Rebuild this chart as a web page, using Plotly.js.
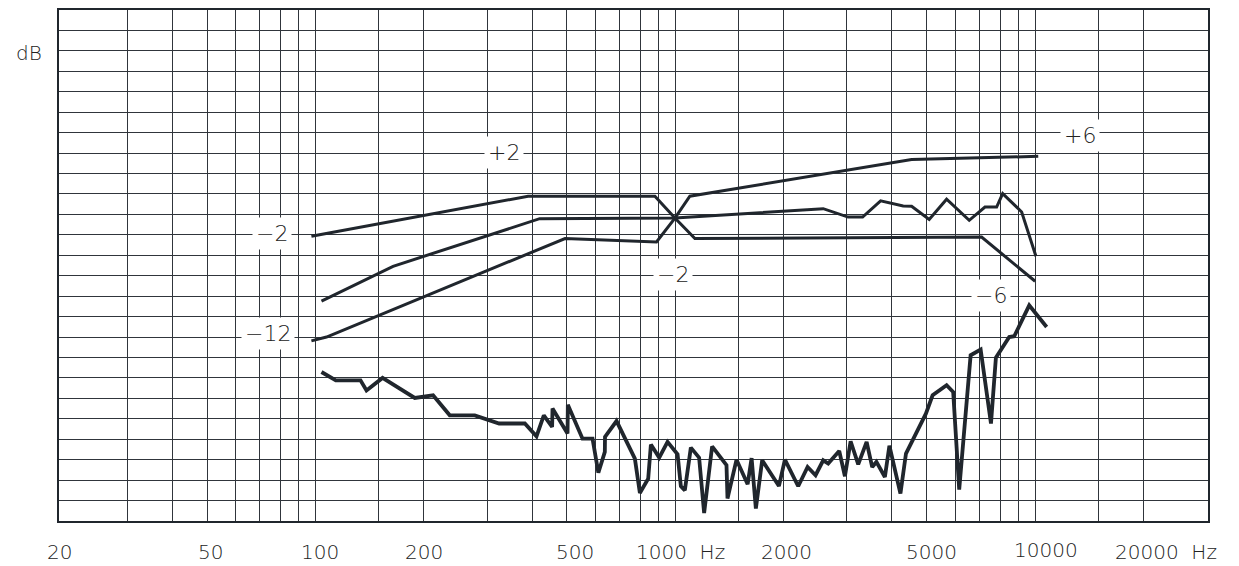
<!DOCTYPE html>
<html>
<head>
<meta charset="utf-8">
<script src="https://cdn.plot.ly/plotly-3.0.1.min.js"></script>
<style>
html,body{margin:0;padding:0;background:#fff;}
#chart{width:1239px;height:566px;}
</style>
</head>
<body>
<div id="chart"></div>
<script>
// ---- data (levels in grid divisions, 0 = bottom edge) ----
var freqA  = [97.5, 390, 878, 998, 1134, 7100, 10000];
var levelA = [13.93, 15.89, 15.89, 14.82, 13.82, 13.89, 11.73];

var freqB  = [97.5, 107.4, 494, 887, 998, 1098, 4537, 10200];
var levelB = [8.81, 9.00, 13.82, 13.65, 14.82, 15.89, 17.68, 17.84];

var freqC  = [104, 164.4, 420, 998, 2577, 3023, 3316, 3721, 4299, 4537, 5077, 5675, 6559, 7253, 7816, 8124, 9174, 10051];
var levelC = [10.76, 12.46, 14.79, 14.82, 15.28, 14.87, 14.87, 15.66, 15.41, 15.40, 14.75, 15.74, 14.71, 15.36, 15.36, 16.02, 15.12, 12.95];

var freqD  = [104, 114, 133.5, 138.7, 153.7, 188.9, 212.4, 236.3, 277.3, 324.1, 382, 411.6, 431.3, 454.9, 456, 502, 503, 552.5, 589.1, 611.4, 637.3, 638, 686.9, 772.4, 797.5, 841.1, 855.7, 902.4, 951.9, 1015, 1036.5, 1063.3, 1105, 1165, 1203, 1266, 1388, 1397, 1480, 1589, 1630, 1675, 1744, 1941, 2017, 2196, 2332, 2454, 2577, 2661, 2855, 2961, 3071, 3224, 3402, 3526, 3622, 3824, 3936, 4224, 4376, 4836, 4971, 5189, 5675, 5920, 6152, 6618, 7056, 7538, 7780, 8472, 8748, 9629, 10765];
var levelD = [7.29, 6.88, 6.88, 6.39, 7.00, 6.02, 6.15, 5.17, 5.17, 4.77, 4.77, 4.14, 5.17, 4.60, 5.50, 4.28, 5.69, 4.03, 4.03, 2.36, 3.38, 4.11, 4.89, 3.05, 1.37, 2.07, 3.74, 3.10, 3.87, 3.26, 1.70, 1.50, 3.59, 3.10, 0.39, 3.65, 2.73, 1.10, 3.00, 1.80, 3.08, 0.61, 2.97, 1.71, 3.00, 1.70, 2.64, 2.24, 2.97, 2.81, 3.43, 2.19, 3.90, 2.77, 3.87, 2.64, 2.89, 2.15, 3.68, 1.34, 3.30, 4.77, 5.25, 6.15, 6.64, 6.31, 1.54, 8.11, 8.39, 4.77, 7.99, 9.00, 9.04, 10.55, 9.49];

var curveLabels = ['+2', '\u22122', '\u221212', '\u22122', '\u22126', '+6'];
var curveLabelFreq = [334, 75.9, 73.7, 987, 7538, 13300];
var curveLabelLevel = [18.04, 14.08, 9.18, 12.07, 11.04, 18.87];

var gridFreqs = [30,40,50,60,70,80,90,100,150,200,300,400,500,600,700,800,900,1000,1500,2000,3000,4000,5000,6000,7000,8000,9000,10000,15000,20000];
var tickFreqs = [20, 50, 100, 200, 500, 1000, 2000, 5000, 10000, 20000];
var tickText  = ['20', '50', '100', '200', '500', '1000  Hz', '2000', '5000', '10000', '20000  Hz'];
var tickShift = [-4, 3, 5, 0, 8, 5, 3, 5, 11, 23];   // label nudges in px
var tickLift  = [0, 0, 0, 0, 0, 0, 0, 0, 2, 0];

var ink = '#20262d';
var lineStyle = function(w){ return {color: ink, width: w, shape: 'linear'}; };

var traces = [
  {x: freqA, y: levelA, mode: 'lines', line: lineStyle(3), hoverinfo: 'skip'},
  {x: freqB, y: levelB, mode: 'lines', line: lineStyle(3), hoverinfo: 'skip'},
  {x: freqC, y: levelC, mode: 'lines', line: lineStyle(3), hoverinfo: 'skip'},
  {x: freqD, y: levelD, mode: 'lines', line: lineStyle(3.8), hoverinfo: 'skip'}
];

var labelFont = {family: 'DejaVu Sans, sans-serif', size: 22, color: '#222222', weight: 300};
var tickFont  = {family: 'DejaVu Sans, sans-serif', size: 20, color: '#222222', weight: 300};

var annotations = [];
curveLabels.forEach(function(t, i){
  annotations.push({
    text: t, x: Math.log10(curveLabelFreq[i]), y: curveLabelLevel[i],
    xref: 'x', yref: 'y', showarrow: false, xanchor: 'center', yanchor: 'middle',
    font: labelFont, bgcolor: '#ffffff', borderpad: 3
  });
});
tickText.forEach(function(t, i){
  annotations.push({
    text: t, x: Math.log10(tickFreqs[i]), y: 0, xref: 'x', yref: 'paper',
    xanchor: 'center', yanchor: 'middle', xshift: tickShift[i], yshift: -31 + tickLift[i],
    showarrow: false, font: tickFont
  });
});
annotations.push({
  text: 'dB', x: -0.026, y: 22.9, xref: 'paper', yref: 'y',
  xanchor: 'center', yanchor: 'middle', showarrow: false, font: tickFont
});

var gridColor = '#30353b';
var layout = {
  width: 1239, height: 566,
  margin: {l: 59, r: 31, t: 10, b: 45, pad: 0},
  paper_bgcolor: '#ffffff', plot_bgcolor: '#ffffff',
  showlegend: false, hovermode: false,
  xaxis: {
    type: 'log', range: [1.2877, 4.4803],
    tickmode: 'array', tickvals: gridFreqs, showticklabels: false, ticks: '',
    showgrid: true, gridcolor: gridColor, gridwidth: 1,
    showline: true, mirror: true, linecolor: ink, linewidth: 1.6,
    zeroline: false, fixedrange: true
  },
  yaxis: {
    range: [0, 25], tickmode: 'linear', tick0: 0, dtick: 1,
    showticklabels: false, ticks: '',
    showgrid: true, gridcolor: gridColor, gridwidth: 1,
    showline: true, mirror: true, linecolor: ink, linewidth: 1.6,
    zeroline: false, fixedrange: true
  },
  annotations: annotations
};

Plotly.newPlot('chart', traces, layout, {displayModeBar: false, staticPlot: true});
</script>
</body>
</html>
